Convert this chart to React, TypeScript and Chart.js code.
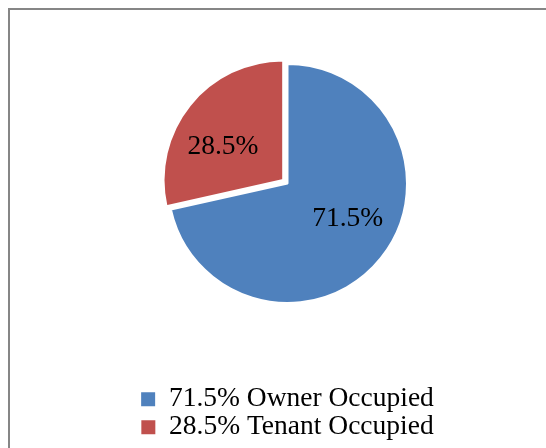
import React, { useEffect, useRef } from "react";
import { Chart, registerables } from "chart.js";

Chart.register(...registerables);

const categories: string[] = ["Owner Occupied", "Tenant Occupied"];
const shares: number[] = [71.5, 28.5];
const sliceColors: string[] = ["#4F81BD", "#C0504D"];
const sliceOffsets: number[] = [0, 22];

const FONT = "'Liberation Serif', 'Times New Roman', serif";
const FONT_SIZE = 27.5;
const LABEL_RADIUS_RATIO = 0.58;
const LABEL_ANGLE_SHIFT = (-9 * Math.PI) / 180;

const framePlugin = {
  id: "frame",
  beforeDraw(chart: any) {
    const ctx = chart.ctx;
    ctx.save();
    ctx.strokeStyle = "#868686";
    ctx.lineWidth = 2;
    ctx.strokeRect(9, 27, 700, 700);
    ctx.restore();
  },
};

const sliceLabelPlugin = {
  id: "sliceLabels",
  afterDatasetsDraw(chart: any) {
    const ctx = chart.ctx;
    const meta = chart.getDatasetMeta(0);
    ctx.save();
    ctx.font = `${FONT_SIZE}px ${FONT}`;
    ctx.fillStyle = "#000";
    ctx.textAlign = "center";
    ctx.textBaseline = "middle";
    meta.data.forEach((arc: any, i: number) => {
      const { x, y, startAngle, endAngle, outerRadius } = arc.getProps(
        ["x", "y", "startAngle", "endAngle", "outerRadius"],
        true
      );
      const half = (startAngle + endAngle) / 2;
      const circ = endAngle - startAngle;
      const off = (sliceOffsets[i] || 0) / 4;
      const fix = 1 - Math.sin(Math.min(Math.PI, circ));
      const shift = off + off * fix;
      const cx = x + Math.cos(half) * shift;
      const cy = y + Math.sin(half) * shift;
      const a = half + LABEL_ANGLE_SHIFT;
      const r = outerRadius * LABEL_RADIUS_RATIO;
      ctx.fillText(`${shares[i]}%`, cx + Math.cos(a) * r, cy + Math.sin(a) * r + 1);
    });
    ctx.restore();
  },
};

export default function App() {
  const ref = useRef<HTMLCanvasElement | null>(null);

  useEffect(() => {
    if (!ref.current) return;
    const chart = new Chart(ref.current, {
      type: "pie",
      data: {
        labels: categories.map((c, i) => `${shares[i]}% ${c}`),
        datasets: [
          {
            data: shares,
            backgroundColor: sliceColors,
            borderColor: "#ffffff",
            borderWidth: 2,
            offset: sliceOffsets,
          },
        ],
      },
      options: {
        responsive: false,
        animation: false,
        radius: 119.5,
        layout: { padding: { left: 29, right: 0, top: 0, bottom: 0 } },
        plugins: {
          tooltip: { enabled: false },
          legend: {
            position: "bottom",
            labels: {
              boxWidth: 14,
              boxHeight: 14,
              padding: 0.5,
              color: "#000",
              font: { family: FONT, size: FONT_SIZE },
              generateLabels: (c: any) =>
                (Chart as any).overrides.doughnut.plugins.legend.labels
                  .generateLabels(c)
                  .map((l: any) => ({ ...l, lineWidth: 0 })),
            },
          },
        },
      } as any,
      plugins: [framePlugin, sliceLabelPlugin],
    });
    return () => chart.destroy();
  }, []);

  return (
    <div
      style={{
        position: "fixed",
        left: 0,
        top: 0,
        width: 546,
        height: 448,
        overflow: "hidden",
        background: "#fff",
      }}
    >
      <canvas
        ref={ref}
        width={546}
        height={469}
        style={{ position: "absolute", left: 0, top: -18, width: 546, height: 469 }}
      />
    </div>
  );
}
